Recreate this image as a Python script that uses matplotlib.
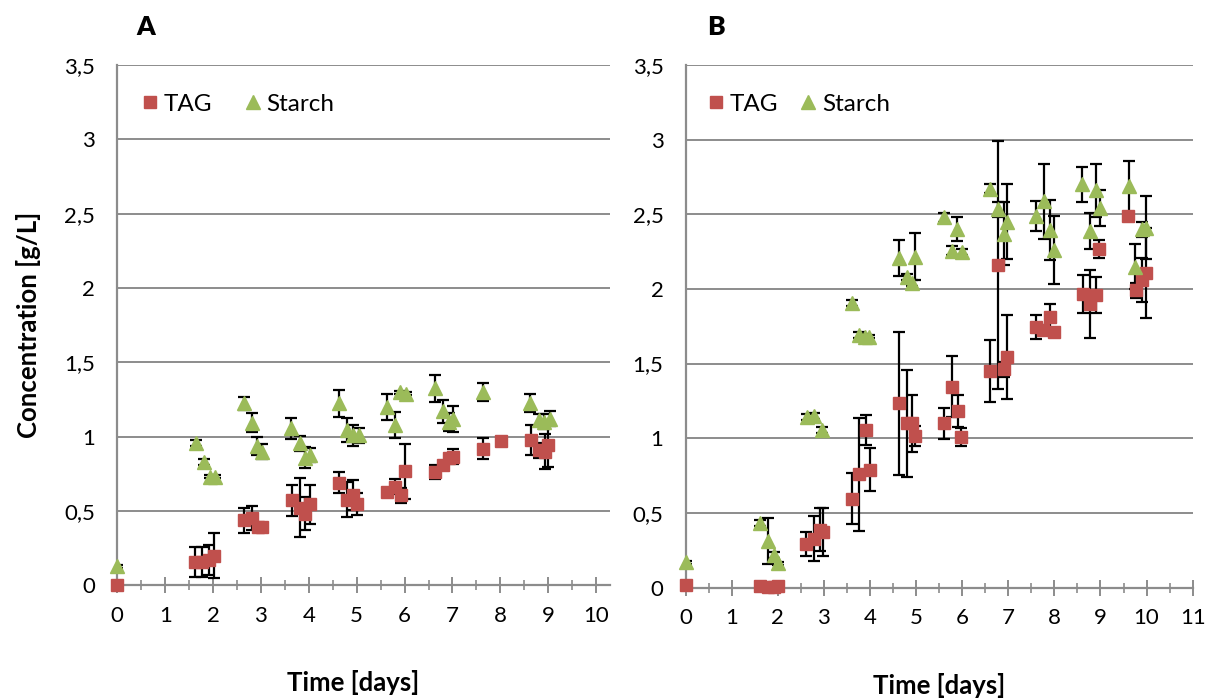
import numpy as np
import matplotlib
matplotlib.use("Agg")
import matplotlib.pyplot as plt
from matplotlib.ticker import MultipleLocator, FixedLocator, FixedFormatter
from matplotlib.lines import Line2D

plt.rcParams['font.family'] = ['Lato', 'DejaVu Sans']

# ---- panel A data (days, g/L, +/- error) ----
a_tag_t = [0.0, 1.63, 1.77, 1.91, 2.01, 2.65, 2.81, 2.93, 3.02, 3.65, 3.82, 3.92, 4.02,
           4.64, 4.79, 4.93, 5.00, 5.64, 5.80, 5.92, 6.01, 6.64, 6.80, 6.92, 7.02,
           7.63, 8.01, 8.64, 8.80, 8.94, 9.00]
a_tag = [0.0, 0.157, 0.157, 0.169, 0.20, 0.438, 0.456, 0.39, 0.39, 0.573, 0.524, 0.483, 0.546,
         0.69, 0.578, 0.607, 0.546, 0.63, 0.663, 0.607, 0.769, 0.764, 0.81, 0.854, 0.865,
         0.92, 0.97, 0.978, 0.91, 0.90, 0.944]
a_tag_err = [0.0, 0.10, 0.10, 0.10, 0.15, 0.085, 0.08, 0.02, 0.02, 0.105, 0.20, 0.11, 0.13,
             0.07, 0.12, 0.10, 0.075, 0.02, 0.05, 0.05, 0.185, 0.045, 0.02, 0.03, 0.05,
             0.07, 0.0, 0.10, 0.05, 0.12, 0.15]

a_st_t = [0.0, 1.64, 1.82, 1.94, 2.05, 2.64, 2.81, 2.92, 3.02, 3.63, 3.81, 3.92, 4.03,
          4.64, 4.79, 4.93, 5.04, 5.63, 5.80, 5.91, 6.03, 6.64, 6.80, 6.92, 7.02,
          7.63, 8.62, 8.80, 8.92, 9.03]
a_st = [0.13, 0.96, 0.83, 0.73, 0.73, 1.225, 1.095, 0.937, 0.90, 1.057, 0.955, 0.86, 0.877,
        1.225, 1.045, 1.01, 1.01, 1.20, 1.08, 1.30, 1.29, 1.326, 1.17, 1.10, 1.12,
        1.30, 1.225, 1.11, 1.10, 1.12]
a_st_err = [0.01, 0.02, 0.02, 0.01, 0.01, 0.045, 0.065, 0.06, 0.05, 0.07, 0.05, 0.07, 0.05,
            0.09, 0.08, 0.07, 0.05, 0.09, 0.085, 0.01, 0.01, 0.09, 0.075, 0.06, 0.085,
            0.06, 0.06, 0.04, 0.05, 0.05]

# ---- panel B data ----
b_tag_t = [0.0, 1.62, 1.79, 1.91, 2.00, 2.61, 2.78, 2.91, 2.99, 3.61, 3.77, 3.91, 3.99,
           4.62, 4.80, 4.91, 4.98, 5.61, 5.77, 5.90, 5.97, 6.60, 6.78, 6.90, 6.98,
           7.60, 7.76, 7.90, 7.99, 8.62, 8.77, 8.90, 8.97, 9.60, 9.78, 9.91, 9.99]
b_tag = [0.02, 0.01, 0.005, 0.005, 0.01, 0.29, 0.327, 0.387, 0.37, 0.595, 0.758, 1.054, 0.79,
         1.233, 1.10, 1.10, 1.015, 1.10, 1.344, 1.18, 1.009, 1.45, 2.16, 1.463, 1.545,
         1.747, 1.725, 1.814, 1.713, 1.966, 1.90, 1.96, 2.266, 2.49, 1.99, 2.06, 2.105]
b_tag_err = [0.0, 0.0, 0.0, 0.0, 0.0, 0.08, 0.15, 0.145, 0.16, 0.17, 0.38, 0.10, 0.145,
             0.48, 0.36, 0.19, 0.065, 0.105, 0.205, 0.107, 0.06, 0.21, 0.83, 0.05, 0.28,
             0.08, 0.03, 0.085, 0.02, 0.13, 0.23, 0.12, 0.06, 0.0, 0.05, 0.15, 0.30]

b_st_t = [0.0, 1.62, 1.79, 1.91, 2.00, 2.63, 2.79, 2.96, 3.61, 3.77, 3.90, 3.97,
          4.62, 4.80, 4.91, 4.98, 5.61, 5.77, 5.89, 6.00, 6.60, 6.78, 6.91, 6.98,
          7.60, 7.77, 7.90, 7.99, 8.61, 8.77, 8.90, 8.98, 9.61, 9.76, 9.91, 9.99]
b_st = [0.17, 0.43, 0.31, 0.215, 0.163, 1.143, 1.15, 1.058, 1.904, 1.69, 1.68, 1.68,
        2.206, 2.08, 2.04, 2.217, 2.48, 2.257, 2.40, 2.25, 2.67, 2.535, 2.37, 2.45,
        2.49, 2.586, 2.396, 2.26, 2.70, 2.39, 2.66, 2.54, 2.687, 2.15, 2.40, 2.41]
b_st_err = [0.01, 0.02, 0.155, 0.02, 0.01, 0.02, 0.02, 0.02, 0.02, 0.02, 0.02, 0.01,
            0.12, 0.02, 0.02, 0.16, 0.03, 0.03, 0.08, 0.02, 0.03, 0.05, 0.21, 0.25,
            0.10, 0.25, 0.20, 0.23, 0.12, 0.12, 0.18, 0.12, 0.17, 0.15, 0.05, 0.21]

y_ticks = [0, 0.5, 1, 1.5, 2, 2.5, 3, 3.5]
y_labels = ['0', '0,5', '1', '1,5', '2', '2,5', '3', '3,5']

RED = '#C0504D'
GREEN = '#9BBB59'
GRID = '#8C8C8C'

fig = plt.figure(figsize=(12.14, 6.98), dpi=100)
axA = fig.add_axes([0.0966, 0.1612, 0.4059, 0.7457])
axB = fig.add_axes([0.5648, 0.1583, 0.4176, 0.7486])


def draw_panel(ax, xmax, xticks, tag_t, tag, tag_err, st_t, st, st_err, label_x):
    ax.set_xlim(0, xmax)
    ax.set_ylim(0, 3.5)
    ax.yaxis.set_major_locator(FixedLocator(y_ticks))
    ax.yaxis.set_major_formatter(FixedFormatter(y_labels))
    ax.xaxis.set_major_locator(FixedLocator(xticks))
    ax.xaxis.set_minor_locator(MultipleLocator(0.5))
    ax.grid(axis='y', color=GRID, lw=1.4, zorder=0)
    ax.set_axisbelow(True)
    for s in ['top', 'right']:
        ax.spines[s].set_visible(False)
    for s in ['left', 'bottom']:
        ax.spines[s].set_color(GRID)
        ax.spines[s].set_linewidth(1.6)
    ax.tick_params(axis='y', length=0, pad=16, labelsize=16)
    ax.tick_params(axis='x', which='major', direction='inout', length=11, width=1.4,
                   color=GRID, pad=9, labelsize=16)
    ax.tick_params(axis='x', which='minor', direction='inout', length=7, width=1.2,
                   color=GRID)

    ax.errorbar(tag_t, tag, yerr=tag_err, fmt='none', ecolor='black', elinewidth=1.6,
                capsize=4, capthick=1.6, zorder=2)
    ax.errorbar(st_t, st, yerr=st_err, fmt='none', ecolor='black', elinewidth=1.6,
                capsize=4, capthick=1.6, zorder=2)
    ax.plot(tag_t, tag, ls='none', marker='s', ms=8.6, color=RED, mec=RED, zorder=3,
            clip_on=False)
    ax.plot(st_t, st, ls='none', marker='^', ms=10, color=GREEN, mec=GREEN, zorder=4,
            clip_on=False)
    ax.set_xlabel('Time [days]', fontsize=18.5, fontweight='bold')
    ax.xaxis.set_label_coords(label_x, -0.163)


draw_panel(axA, 10.29, list(range(11)), a_tag_t, a_tag, a_tag_err, a_st_t, a_st, a_st_err, 0.478)
draw_panel(axB, 11, list(range(12)), b_tag_t, b_tag, b_tag_err, b_st_t, b_st, b_st_err, 0.5)

axA.set_ylabel('Concentration [g/L]', fontsize=18.5, fontweight='bold', labelpad=17)

handles = [Line2D([], [], ls='none', marker='s', ms=8, color=RED),
           Line2D([], [], ls='none', marker='^', ms=9.5, color=GREEN)]
axA.legend(handles, ['TAG', 'Starch'], ncol=2, loc='center left',
           bbox_to_anchor=(0.047, 0.925), frameon=False, fontsize=17.5,
           handlelength=0.8, handletextpad=0.15, columnspacing=1.3, borderpad=0,
           borderaxespad=0)
axB.legend(handles, ['TAG', 'Starch'], ncol=2, loc='center left',
           bbox_to_anchor=(0.041, 0.925), frameon=False, fontsize=17.5,
           handlelength=0.8, handletextpad=0.15, columnspacing=0.85, borderpad=0,
           borderaxespad=0)

fig.text(146 / 1214, 1 - 27 / 698, 'A', fontsize=19, fontweight='heavy', va='center', ha='center')
fig.text(716 / 1214, 1 - 27 / 698, 'B', fontsize=19, fontweight='heavy', va='center', ha='center')

fig.savefig('out.png', dpi=100, facecolor='white')
